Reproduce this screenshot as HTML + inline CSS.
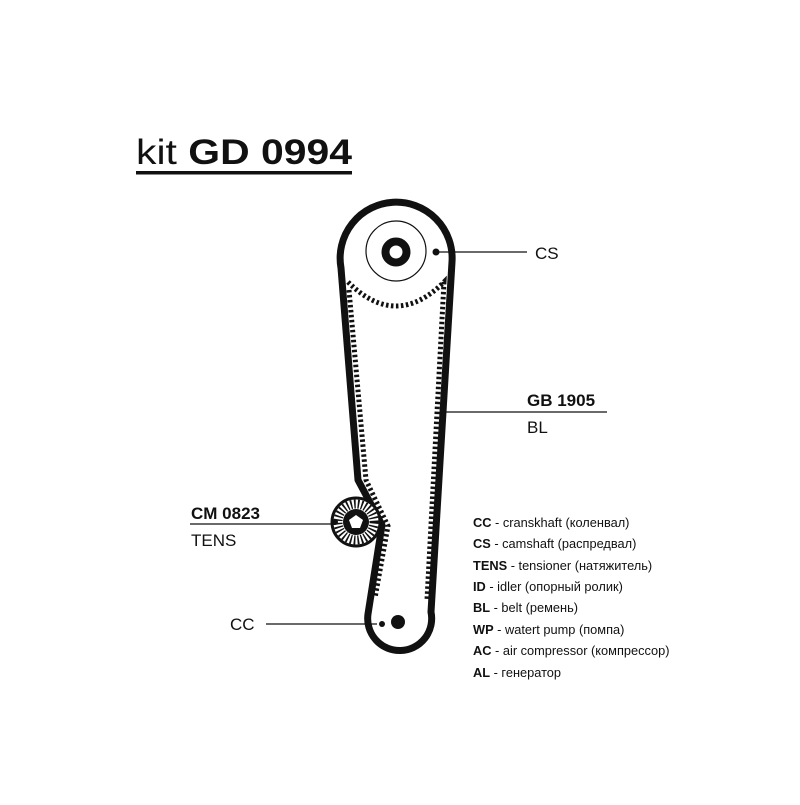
<!DOCTYPE html>
<html><head><meta charset="utf-8"><style>
html,body{margin:0;padding:0;background:#fff;}
svg text{font-family:"Liberation Sans","DejaVu Sans",sans-serif;fill:#111;}
</style></head><body>
<svg width="800" height="800" viewBox="0 0 800 800" xmlns="http://www.w3.org/2000/svg">
<rect width="800" height="800" fill="#fff"/>
<text x="136" y="164" font-size="35" textLength="216" lengthAdjust="spacingAndGlyphs"><tspan>kit </tspan><tspan font-weight="bold">GD 0994</tspan></text>
<rect x="136" y="171" width="216" height="3.5" fill="#111"/>

<!-- belt outer -->
<path d="M341,268 A56,56 0 1 1 452,262 L431,612 A32,32 0 1 1 368,614 L382,525 L358,480 Z" fill="none" stroke="#111" stroke-width="7" stroke-linejoin="round"/>
<!-- teeth -->
<path d="M348,282 Q396,330 444,282 L427,600" fill="none" stroke="#111" stroke-width="5" stroke-dasharray="2.5 2.5"/>
<path d="M349,290 L366,480 L388,526 L375,598" fill="none" stroke="#111" stroke-width="5" stroke-dasharray="2.5 2.5"/>

<!-- CS pulley -->
<circle cx="396" cy="251" r="30" fill="none" stroke="#111" stroke-width="1.2"/>
<circle cx="396" cy="252" r="10.5" fill="#fff" stroke="#111" stroke-width="8"/>
<polygon points="396,247 400,250 398,255 394,255 392,250" fill="#fff"/>
<circle cx="436" cy="252" r="3.5" fill="#111"/>
<line x1="437" y1="252" x2="527" y2="252" stroke="#111" stroke-width="1.2"/>
<text x="535" y="259" font-size="17">CS</text>

<!-- GB label -->
<line x1="445" y1="412" x2="607" y2="412" stroke="#111" stroke-width="1.2"/>
<text x="527" y="406" font-size="17" font-weight="bold">GB 1905</text>
<text x="527" y="433" font-size="17">BL</text>

<!-- Tensioner -->
<circle cx="356" cy="522" r="24" fill="#fff" stroke="#111" stroke-width="3"/>
<circle cx="356" cy="522" r="18" fill="none" stroke="#111" stroke-width="9" stroke-dasharray="1.6 2"/>
<circle cx="356" cy="522" r="13" fill="#111"/>
<polygon points="356,515 363,520 360,528 352,528 349,520" fill="#fff"/>
<circle cx="335" cy="522" r="3" fill="#111"/>
<line x1="190" y1="524" x2="335" y2="524" stroke="#111" stroke-width="1.2"/>
<text x="191" y="519" font-size="17" font-weight="bold">CM 0823</text>
<text x="191" y="546" font-size="17">TENS</text>

<!-- CC -->
<circle cx="398" cy="622" r="7" fill="#111"/>
<circle cx="382" cy="624" r="3" fill="#111"/>
<line x1="266" y1="624" x2="377" y2="624" stroke="#111" stroke-width="1.2"/>
<text x="230" y="630" font-size="17">CC</text>

<!-- Legend -->
<g font-size="12.8">
<text x="473" y="527"><tspan font-weight="bold">CC</tspan> - cranskhaft (коленвал)</text>
<text x="473" y="548"><tspan font-weight="bold">CS</tspan> - camshaft (распредвал)</text>
<text x="473" y="570"><tspan font-weight="bold">TENS</tspan> - tensioner (натяжитель)</text>
<text x="473" y="591"><tspan font-weight="bold">ID</tspan> - idler (опорный ролик)</text>
<text x="473" y="612"><tspan font-weight="bold">BL</tspan> - belt (ремень)</text>
<text x="473" y="634"><tspan font-weight="bold">WP</tspan> - watert pump (помпа)</text>
<text x="473" y="655"><tspan font-weight="bold">AC</tspan> - air compressor (компрессор)</text>
<text x="473" y="677"><tspan font-weight="bold">AL</tspan> - генератор</text>
</g>
</svg>
</body></html>
